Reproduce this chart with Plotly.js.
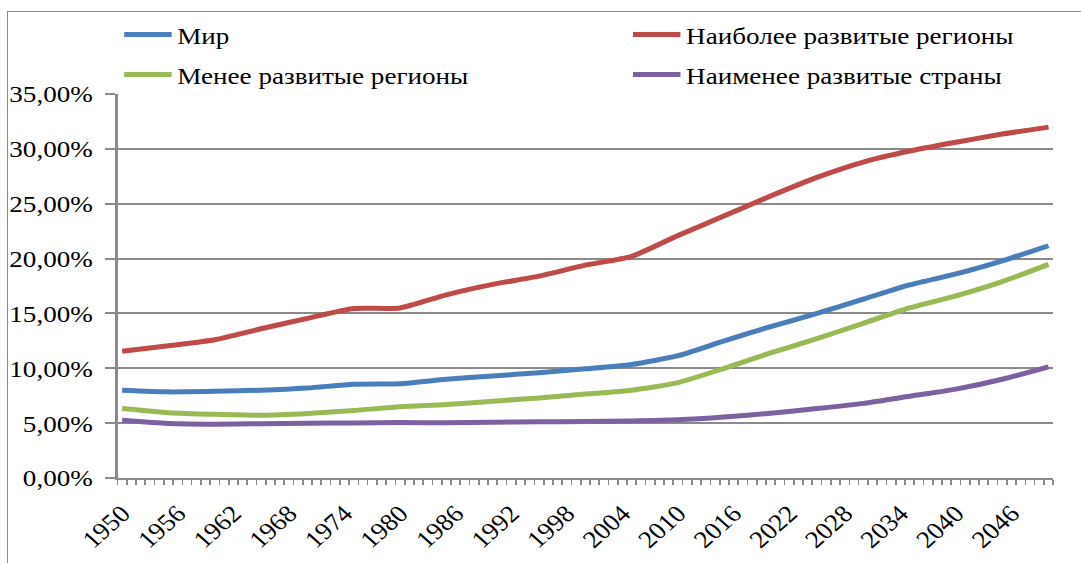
<!DOCTYPE html>
<html>
<head>
<meta charset="utf-8">
<script src="https://cdn.plot.ly/plotly-3.0.1.min.js"></script>
<style>
  html, body { margin: 0; padding: 0; background: #fff; }
  #wrap { position: relative; width: 1081px; height: 563px; overflow: hidden; }
  #chart { position: absolute; left: 0; top: 0; height: 563px; transform-origin: 0 0; }
  #frame { position: absolute; left: 7px; top: 11px; width: 1200px; height: 700px;
           border: 1.5px solid #8a8a8a; pointer-events: none; }
</style>
</head>
<body>
<div id="wrap">
  <div id="chart"></div>
  <div id="frame"></div>
</div>
<script>
const years = [1950,1955,1960,1965,1970,1975,1980,1985,1990,1995,2000,2005,2010,2015,2020,2025,2030,2035,2040,2045,2050];
const world = [8.0,7.85,7.9,8.0,8.2,8.55,8.6,9.0,9.3,9.6,9.95,10.35,11.15,12.5,13.8,15.0,16.3,17.6,18.6,19.8,21.17];
const moreDeveloped = [11.56,12.05,12.6,13.6,14.55,15.45,15.5,16.7,17.65,18.4,19.4,20.2,22.1,23.9,25.7,27.4,28.8,29.8,30.6,31.35,31.98];
const lessDeveloped = [6.33,5.95,5.8,5.72,5.88,6.15,6.5,6.7,7.0,7.3,7.65,8.0,8.7,10.0,11.4,12.7,14.1,15.5,16.6,17.9,19.47];
const leastDeveloped = [5.26,4.97,4.9,4.95,5.0,5.02,5.05,5.03,5.08,5.12,5.15,5.2,5.3,5.55,5.9,6.33,6.8,7.45,8.1,9.0,10.13];
const seriesNames = ["Мир","Наиболее развитые регионы","Менее развитые регионы","Наименее развитые страны"];
const xTickLabels = [1950,1956,1962,1968,1974,1980,1986,1992,1998,2004,2010,2016,2022,2028,2034,2040,2046];
const yTickValues = [0,5,10,15,20,25,30,35];
const yTickLabels = ["0,00%","5,00%","10,00%","15,00%","20,00%","25,00%","30,00%","35,00%"];

const colors = ["#4A7EBB","#BE4B48","#98B954","#7D60A0"];
const legendIds = ["legend","legend2","legend3","legend4"];
const allSeries = [world, moreDeveloped, lessDeveloped, leastDeveloped];

const traces = allSeries.map((s, i) => ({
  x: years, y: s, name: seriesNames[i], type: 'scatter', mode: 'lines',
  legend: legendIds[i],
  line: { color: colors[i], width: 5, shape: 'spline', smoothing: 0.6 },
  hoverinfo: 'skip'
}));

const font = { family: 'Liberation Serif', size: 24, color: '#000' };

// The reference picture is stretched horizontally; reproduce that with a CSS scaleX.
const S = 1.13;
const W = 1081, H = 563;
const W0 = Math.round(W / S);
const M = { l: 117 / S, r: W0 - 1053 / S, t: 94, b: 85 };
const plotW = W0 - M.l - M.r;
const plotH = H - M.t - M.b;

function legendAt(xPx, yPx) {
  return {
    orientation: 'h', xref: 'paper', yref: 'paper',
    x: (xPx / S - M.l) / plotW, xanchor: 'left', y: (H - M.b - yPx) / plotH, yanchor: 'middle',
    itemwidth: 42, font: font, bgcolor: 'rgba(0,0,0,0)', borderwidth: 0
  };
}

const layout = {
  width: W0, height: H,
  margin: { l: M.l, r: M.r, t: M.t, b: M.b, autoexpand: false },
  paper_bgcolor: 'rgba(0,0,0,0)', plot_bgcolor: 'rgba(0,0,0,0)',
  font: font,
  showlegend: true,
  legend: legendAt(118, 35),
  legend2: legendAt(627, 35),
  legend3: legendAt(118, 75),
  legend4: legendAt(627, 75),
  xaxis: {
    range: [1949.5, 2050.5], tickmode: 'array', tickvals: xTickLabels,
    ticktext: xTickLabels.map(String), tickangle: -45, ticks: '', ticklabelstandoff: 10,
    showline: true, linecolor: '#8a8a8a', linewidth: 2, showgrid: false, zeroline: false,
    tickfont: font,
    minor: { tick0: 1949.5, dtick: 1, ticks: 'outside', ticklen: 5, tickcolor: '#8a8a8a', tickwidth: 1.5, showgrid: false }
  },
  yaxis: {
    range: [0, 35], tickmode: 'array', tickvals: yTickValues, ticktext: yTickLabels,
    ticks: 'outside', ticklen: 9, tickcolor: '#8a8a8a', tickwidth: 2, ticklabelstandoff: 6,
    showline: true, linecolor: '#8a8a8a', linewidth: 2,
    showgrid: true, gridcolor: '#8a8a8a', gridwidth: 2, zeroline: false,
    tickfont: font
  }
};

const chartDiv = document.getElementById('chart');
chartDiv.style.width = W0 + 'px';
chartDiv.style.transform = 'scaleX(' + S + ')';
Plotly.newPlot(chartDiv, traces, layout, { staticPlot: true, displayModeBar: false });
</script>
</body>
</html>
